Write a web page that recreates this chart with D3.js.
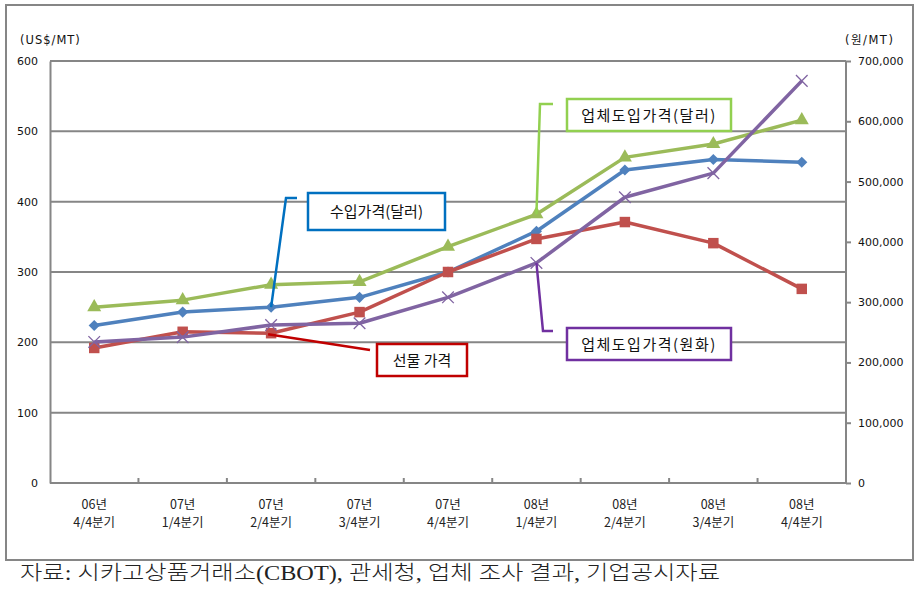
<!DOCTYPE html>
<html><head><meta charset="utf-8">
<script src="https://cdn.jsdelivr.net/npm/d3@7"></script>
<style>body{margin:0;background:#fff}svg{display:block}</style>
</head><body>
<svg id="c" width="924" height="589"></svg>
<script>
// ---- data ----
const categoryYears = ["06년","07년","07년","07년","07년","08년","08년","08년","08년"];
const categoryQuarters = ["4/4분기","1/4분기","2/4분기","3/4분기","4/4분기","1/4분기","2/4분기","3/4분기","4/4분기"];
const importUSD  = [224, 243, 250, 264, 300, 358, 445, 460, 456];   // 수입가격(달러)
const futuresUSD = [192, 215, 213, 243, 300, 347, 371, 341, 276];   // 선물 가격
const companyUSD = [250, 260, 282, 286, 336, 382, 463, 482, 516];   // 업체도입가격(달러)
const companyKRW = [234000, 242000, 262000, 265000, 308000, 365000, 474000, 514000, 667000]; // 업체도입가격(원화)
const leftTicks  = [0, 100, 200, 300, 400, 500, 600];
const rightTicks = [0, 100000, 200000, 300000, 400000, 500000, 600000, 700000];
const leftUnit = "(US$/MT)";
const rightUnit = "(원/MT)";
const sourceText = "자료: 시카고상품거래소(CBOT), 관세청, 업체 조사 결과, 기업공시자료";

// ---- layout ----
const svg = d3.select("#c");
const L = 50, R = 846, T = 61, B = 483;
const grid = "#868686";
const keys = categoryYears.map((d, i) => i);

const x = d3.scaleBand().domain(keys).range([L, R]);
const xc = i => x(i) + x.bandwidth() / 2;
const yL = d3.scaleLinear().domain([0, 600]).range([B, T]);
const yR = d3.scaleLinear().domain([0, 700000]).range([B, T]);

// outer frame
svg.append("rect").attr("x", 6).attr("y", 5).attr("width", 907).attr("height", 555)
  .attr("fill", "none").attr("stroke", grid).attr("stroke-width", 2);

// gridlines
svg.append("g").selectAll("line").data(leftTicks).join("line")
  .attr("x1", L).attr("x2", R).attr("y1", d => yL(d)).attr("y2", d => yL(d))
  .attr("stroke", grid).attr("stroke-width", 2);

// left axis
const gl = svg.append("g").attr("transform", `translate(${L},0)`)
  .call(d3.axisLeft(yL).tickValues(leftTicks).tickSize(0).tickPadding(12).tickFormat(d3.format("d")));
gl.select(".domain").attr("stroke", grid).attr("stroke-width", 2);
gl.selectAll("text").attr("font-family", "DejaVu Sans").attr("font-size", 11).attr("fill", "#111");

// right axis
const gr = svg.append("g").attr("transform", `translate(${R},0)`)
  .call(d3.axisRight(yR).tickValues(rightTicks).tickSize(5).tickPadding(7).tickFormat(d3.format(",")));
gr.select(".domain").attr("stroke", grid).attr("stroke-width", 2).attr("d", `M0,${T}V${B}`);
gr.selectAll("line").attr("stroke", grid).attr("stroke-width", 2);
gr.selectAll("text").attr("font-family", "DejaVu Sans").attr("font-size", 11).attr("fill", "#111");

// bottom axis
const gb = svg.append("g").attr("transform", `translate(0,${B})`)
  .call(d3.axisBottom(x).tickSize(0).tickFormat(""));
gb.select(".domain").attr("stroke", grid).attr("stroke-width", 2).attr("d", `M${L},0H${R}`);
gb.selectAll(".tick").remove();
svg.append("g").selectAll("line").data(keys.slice(1)).join("line")
  .attr("x1", d => x(d)).attr("x2", d => x(d)).attr("y1", B).attr("y2", B - 5)
  .attr("stroke", grid).attr("stroke-width", 2);
const xlg = svg.append("g");
xlg.selectAll("text.yr").data(keys).join("text").attr("class", "yr")
  .attr("x", d => xc(d)).attr("y", 509).attr("text-anchor", "middle")
  .attr("font-family", "Noto Sans CJK KR").attr("font-size", 12.5).attr("fill", "#222")
  .text(d => categoryYears[d]);
xlg.selectAll("text.qt").data(keys).join("text").attr("class", "qt")
  .attr("x", d => xc(d)).attr("y", 527).attr("text-anchor", "middle")
  .attr("font-family", "Noto Sans CJK KR").attr("font-size", 12.5).attr("fill", "#222")
  .text(d => categoryQuarters[d]);

// unit labels
svg.append("text").attr("x", 20).attr("y", 44).text(leftUnit)
  .attr("font-family", "DejaVu Sans").attr("font-size", 11.5).attr("letter-spacing", 1).attr("fill", "#111");
svg.append("text").attr("x", 845).attr("y", 44).text(rightUnit)
  .attr("font-family", "DejaVu Sans, Noto Sans CJK KR").attr("font-size", 11.5).attr("letter-spacing", 1.5).attr("fill", "#111");

// series
const diamond = d3.symbol(d3.symbolSquare, 62);
const series = [
  {vals: importUSD,  y: yL, color: "#4F81BD", path: diamond(), rot: 45, filled: true},
  {vals: futuresUSD, y: yL, color: "#C0504D", path: d3.symbol(d3.symbolSquare, 110)(), rot: 0, filled: true},
  {vals: companyUSD, y: yL, color: "#9BBB59", path: d3.symbol(d3.symbolTriangle, 85)(), rot: 0, filled: true},
  {vals: companyKRW, y: yR, color: "#8064A2", path: d3.symbol(d3.symbolX, 90)(), rot: 0, filled: false}
];
series.forEach(s => {
  const line = d3.line().x((d, i) => xc(i)).y(d => s.y(d));
  svg.append("path").datum(s.vals).attr("d", line).attr("fill", "none")
    .attr("stroke", s.color).attr("stroke-width", 3.5).attr("stroke-linejoin", "round");
  svg.append("g").selectAll("path").data(s.vals).join("path")
    .attr("transform", (d, i) => `translate(${xc(i)},${s.y(d)}) rotate(${s.rot})`)
    .attr("d", s.path)
    .attr("fill", s.filled ? s.color : "none")
    .attr("stroke", s.color).attr("stroke-width", s.filled ? 0 : 1.3);
});

// callouts
const callouts = [
  {text: "수입가격(달러)", color: "#0070C0", box: [308, 193, 137, 37],
   pts: [[xc(2), yL(importUSD[2])], [286, 198], [297, 198]], ls: 0},
  {text: "선물 가격", color: "#C00000", box: [377, 344, 90, 32],
   pts: [[xc(2) - 3, yL(futuresUSD[2]) + 1], [370, 350]], ls: 0},
  {text: "업체도입가격(달러)", color: "#92D050", box: [567, 99, 164, 32],
   pts: [[xc(5), yL(companyUSD[5])], [540, 104], [553, 104]], ls: 1.5},
  {text: "업체도입가격(원화)", color: "#7030A0", box: [567, 328, 164, 32],
   pts: [[xc(5), yR(companyKRW[5])], [543, 331], [553, 331]], ls: 1.5}
];
callouts.forEach(c => {
  svg.append("path").attr("d", d3.line()(c.pts)).attr("fill", "none")
    .attr("stroke", c.color).attr("stroke-width", 2.5);
  const [bx, by, bw, bh] = c.box;
  svg.append("rect").attr("x", bx).attr("y", by).attr("width", bw).attr("height", bh)
    .attr("fill", "#fff").attr("stroke", c.color).attr("stroke-width", 2.5);
  svg.append("text").attr("x", bx + bw / 2).attr("y", by + bh / 2 + 5.5)
    .attr("text-anchor", "middle").attr("font-family", "Noto Sans CJK KR")
    .attr("font-size", 15).attr("letter-spacing", c.ls).attr("fill", "#111").text(c.text);
});

// source
svg.append("text").attr("x", 20).attr("y", 580).text(sourceText)
  .attr("font-family", "Liberation Serif, Noto Sans CJK KR").attr("font-size", 20).attr("font-weight", 300)
  .attr("fill", "#222").attr("textLength", 700).attr("lengthAdjust", "spacingAndGlyphs");
</script>
</body></html>
